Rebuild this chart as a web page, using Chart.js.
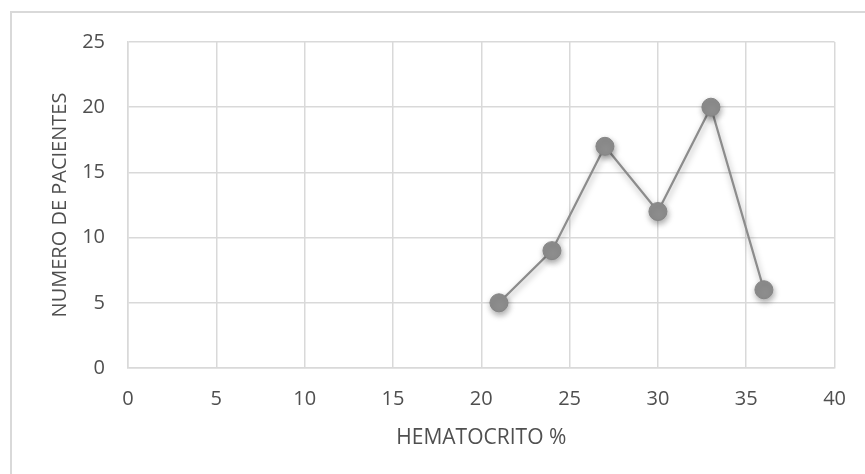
<!DOCTYPE html>
<html>
<head>
<meta charset="utf-8">
<script src="https://cdn.jsdelivr.net/npm/chart.js"></script>
<style>
  html, body { margin: 0; padding: 0; background: #fff; }
  #wrap { position: relative; width: 865px; height: 474px; overflow: hidden; }
  #frame { position: absolute; left: 10px; top: 11px; width: 900px; height: 500px;
           border-left: 2px solid #d9d9d9; border-top: 2px solid #d9d9d9; box-sizing: border-box; }
  canvas { position: absolute; left: 0; top: 0; }
</style>
</head>
<body>
<div id="wrap">
  <div id="frame"></div>
  <canvas id="c" width="865" height="474"></canvas>
</div>
<script>
const hematocrito = [21, 24, 27, 30, 33, 36];
const pacientes = [5, 9, 17, 12, 20, 6];
const xTitle = 'HEMATOCRITO %';
const yTitle = 'NUMERO DE PACIENTES';

const points = hematocrito.map((x, i) => ({ x: x, y: pacientes[i] }));

const shadowPlugin = {
  id: 'shadow',
  beforeDatasetsDraw(chart) {
    const ctx = chart.ctx;
    ctx.save();
    ctx.shadowColor = 'rgba(0,0,0,0.35)';
    ctx.shadowBlur = 6;
    ctx.shadowOffsetX = 1;
    ctx.shadowOffsetY = 3;
  },
  afterDatasetsDraw(chart) {
    chart.ctx.restore();
  }
};

const fontFam = '"Open Sans", "Liberation Sans", sans-serif';
const txt = '#4f4f4f';
const grid = '#d9d9d9';

new Chart(document.getElementById('c'), {
  type: 'scatter',
  data: {
    datasets: [{
      data: points,
      showLine: true,
      borderColor: '#8c8c8c',
      borderWidth: 2.25,
      pointRadius: 9,
      pointHoverRadius: 9,
      pointBackgroundColor: '#8e8e8e',
      pointBorderColor: '#858585',
      pointBorderWidth: 1
    }]
  },
  options: {
    responsive: false,
    animation: false,
    events: [],
    layout: { padding: { left: 0, top: 42, right: 30, bottom: 0 } },
    plugins: { legend: { display: false }, tooltip: { enabled: false } },
    scales: {
      x: {
        type: 'linear', min: 0, max: 40,
        ticks: { stepSize: 5, color: txt, font: { family: fontFam, size: 20 }, padding: 19 },
        grid: { color: grid, lineWidth: 1.5, drawTicks: false },
        border: { color: grid, width: 1.5 },
        title: { display: true, text: xTitle, color: txt, font: { family: fontFam, size: 21 }, padding: { top: 0, bottom: 23 } },
        afterFit(scale) { scale.height = 474 - 368; }
      },
      y: {
        type: 'linear', min: 0, max: 25,
        ticks: { stepSize: 5, color: txt, font: { family: fontFam, size: 20 }, padding: 23 },
        grid: { color: grid, lineWidth: 1.5, drawTicks: false },
        border: { color: grid, width: 1.5 },
        title: { display: true, text: yTitle, color: txt, font: { family: fontFam, size: 20 }, padding: { top: 48, bottom: 0 } },
        afterFit(scale) { scale.width = 128; }
      }
    }
  },
  plugins: [shadowPlugin]
});
</script>
</body>
</html>
